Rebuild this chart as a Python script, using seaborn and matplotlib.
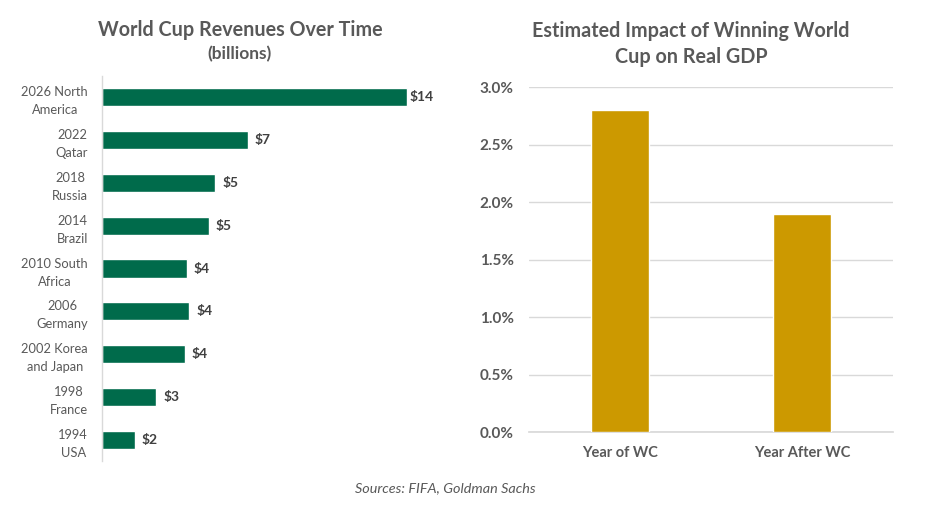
import numpy as np
import matplotlib
matplotlib.use("Agg")
import matplotlib.pyplot as plt
import seaborn as sns
import pandas as pd

# ------------------------------
# DATA
# ------------------------------
hosts = ["2026 North\nAmerica", "2022\nQatar", "2018\nRussia", "2014\nBrazil",
         "2010 South\nAfrica", "2006\nGermany", "2002 Korea\nand Japan",
         "1998\nFrance", "1994\nUSA"]
revenues = [14.0, 6.7, 5.2, 4.9, 3.9, 4.0, 3.8, 2.5, 1.5]   # billions USD

gdp_periods = ["Year of WC", "Year After WC"]
gdp_impact = [2.8, 1.9]   # percent
gdp_ticks = [0.0, 0.5, 1.0, 1.5, 2.0, 2.5, 3.0]

GREEN = "#006B4B"
GOLD = "#CC9900"
GREY = "#595959"
DARK = "#404040"
GRID = "#D9D9D9"

sns.set_theme(style="white")
plt.rcParams['font.family'] = ['Lato', 'DejaVu Sans']

fig = plt.figure(figsize=(9.25, 5.13), dpi=100)
W, H = 925, 513

def ax_at(x0, y0, x1, y1):
    # pixel box -> figure fraction
    return fig.add_axes([x0 / W, 1 - y1 / H, (x1 - x0) / W, (y1 - y0) / H])

# ------------------------------
# LEFT: revenues
# ------------------------------
ax1 = ax_at(102, 75.6, 435, 461.4)
rev_df = pd.DataFrame({"host": hosts, "rev": revenues})
sns.barplot(data=rev_df, x="rev", y="host", orient="h", color=GREEN,
            width=0.42, saturation=1, ax=ax1)
xmax = 14 / 0.916
ax1.set_xlim(0, xmax)
ax1.set_ylim(len(hosts) - 0.5, -0.5)
ax1.set_xlabel("")
ax1.set_ylabel("")
ax1.set_xticks([])
for s in ["top", "right", "bottom"]:
    ax1.spines[s].set_visible(False)
ax1.spines["left"].set_color(GRID)
ax1.spines["left"].set_linewidth(1)
ax1.tick_params(axis="y", length=0, pad=10, labelsize=9.3, labelcolor=GREY)
for lab in ax1.get_yticklabels():
    lab.set_multialignment("center")
    lab.set_linespacing(1.6)
off = 15 * xmax / 333   # ~15 px past the bar end
for i, v in enumerate(revenues):
    ax1.text(v + off, i, f"${int(v + 0.5)}", va="center", ha="center",
             fontsize=10, fontweight="bold", color=DARK)

fig.text(240 / W, 1 - 30 / H, "World Cup Revenues Over Time", ha="center",
         va="center", fontsize=14.2, fontweight="bold", color=GREY)
fig.text(240 / W, 1 - 54 / H, "(billions)", ha="center", va="center",
         fontsize=12.5, fontweight="bold", color=GREY)

# ------------------------------
# RIGHT: GDP impact
# ------------------------------
ax2 = ax_at(529, 87.3, 893, 432)
gdp_df = pd.DataFrame({"period": gdp_periods, "impact": gdp_impact})
sns.barplot(data=gdp_df, x="period", y="impact", color=GOLD, width=0.314,
            saturation=1, ax=ax2, zorder=3)
ax2.set_ylim(0, 3.0)
ax2.set_xlim(-0.5, 1.5)
ax2.set_yticks(gdp_ticks)
ax2.set_yticklabels([f"{t:.1f}%" for t in gdp_ticks])
ax2.yaxis.grid(True, color=GRID, linewidth=1)
ax2.set_axisbelow(True)
ax2.set_xlabel("")
ax2.set_ylabel("")
for s in ["top", "right", "left"]:
    ax2.spines[s].set_visible(False)
ax2.spines["bottom"].set_color(GRID)
ax2.tick_params(axis="y", length=0, pad=11, labelsize=11, labelcolor=GREY)
ax2.tick_params(axis="x", length=0, pad=10, labelsize=10.5, labelcolor=GREY)
for lab in ax2.get_yticklabels() + ax2.get_xticklabels():
    lab.set_fontweight("bold")

fig.text(691 / W, 1 - 31 / H, "Estimated Impact of Winning World", ha="center",
         va="center", fontsize=14.2, fontweight="bold", color=GREY)
fig.text(691 / W, 1 - 57 / H, "Cup on Real GDP", ha="center",
         va="center", fontsize=14.2, fontweight="bold", color=GREY)

fig.text(445 / W, 1 - 488 / H, "Sources: FIFA, Goldman Sachs", ha="center",
         va="center", fontsize=10.4, fontstyle="italic", color=GREY)

fig.savefig("out.png", dpi=100)
